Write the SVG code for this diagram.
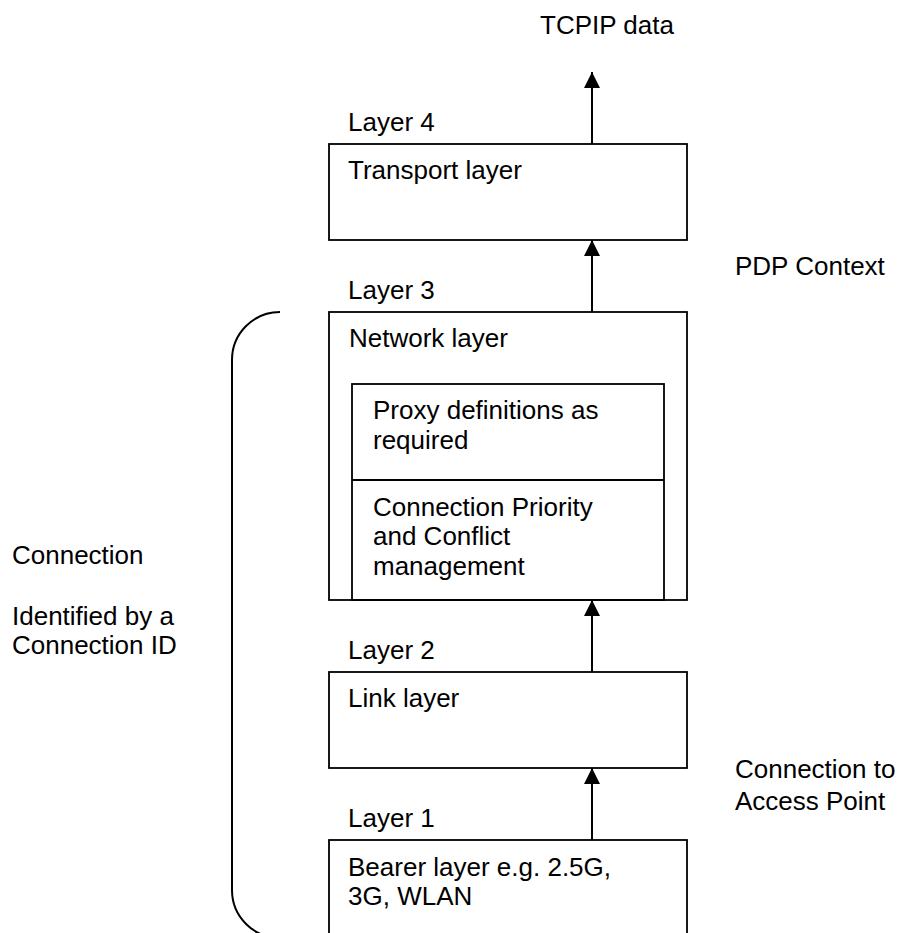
<svg xmlns="http://www.w3.org/2000/svg" width="899" height="933" viewBox="0 0 899 933">
<defs>
<style>
text{font-family:"Liberation Sans",Arial,sans-serif;font-size:26px;fill:#000}
.box{fill:none;stroke:#000;stroke-width:1.8}
.conn{fill:none;stroke:#000;stroke-width:2}
</style>
<marker id="ah" viewBox="0 0 16 16" refX="16" refY="8" markerWidth="16" markerHeight="16" markerUnits="userSpaceOnUse" orient="auto">
<path d="M0,0 L16,8 L0,16 Z" fill="#000"/>
</marker>
</defs>
<rect width="899" height="933" fill="#fff"/>
<g id="connectors">
<line class="conn" x1="592" y1="144" x2="592" y2="72" marker-end="url(#ah)"/>
<line class="conn" x1="592" y1="312" x2="592" y2="240" marker-end="url(#ah)"/>
<line class="conn" x1="592" y1="672" x2="592" y2="600" marker-end="url(#ah)"/>
<line class="conn" x1="592" y1="840" x2="592" y2="768" marker-end="url(#ah)"/>
</g>
<g id="bracket">
<path class="conn" d="M280,312 A48,48 0 0 0 232,360 L232,890 A48,48 0 0 0 280,938"/>
</g>
<g id="tcpip"><text x="540" y="34">TCPIP data</text></g>
<g id="layer4">
<text x="348" y="131">Layer 4</text>
<rect class="box" x="329" y="144" width="358" height="96"/>
<text x="348" y="179">Transport layer</text>
</g>
<g id="pdp"><text x="735" y="275">PDP Context</text></g>
<g id="layer3">
<text x="348" y="299">Layer 3</text>
<rect class="box" x="329" y="312" width="358" height="288"/>
<text x="349" y="347">Network layer</text>
</g>
<g id="proxy">
<rect class="box" x="352" y="384" width="312" height="216"/>
<line class="box" x1="352" y1="480" x2="664" y2="480"/>
<text x="373" y="419">Proxy definitions as</text>
<text x="373" y="449">required</text>
</g>
<g id="priority">
<text x="373" y="516">Connection Priority</text>
<text x="373" y="545">and Conflict</text>
<text x="373" y="575">management</text>
</g>
<g id="connection-label">
<text x="12" y="564">Connection</text>
<text x="12" y="625">Identified by a</text>
<text x="12" y="654">Connection ID</text>
</g>
<g id="layer2">
<text x="348" y="659">Layer 2</text>
<rect class="box" x="329" y="672" width="358" height="96"/>
<text x="348" y="707">Link layer</text>
</g>
<g id="access"><text x="735" y="778">Connection to</text><text x="735" y="810">Access Point</text></g>
<g id="layer1">
<text x="348" y="827">Layer 1</text>
<rect class="box" x="329" y="840" width="358" height="110"/>
<text x="348" y="876">Bearer layer e.g. 2.5G,</text>
<text x="348" y="905">3G, WLAN</text>
</g>
</svg>
